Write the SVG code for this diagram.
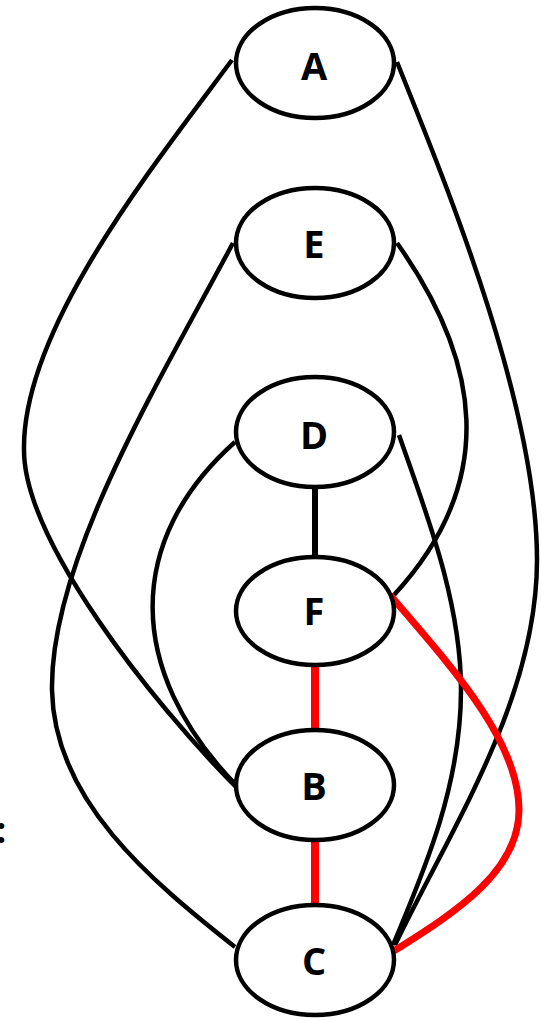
<svg xmlns="http://www.w3.org/2000/svg" width="542" height="1020" viewBox="0 0 542 1020">
<style>
.e{fill:none;stroke:#000;stroke-width:4.5;stroke-linecap:butt}
.r{fill:none;stroke:#ff0000;stroke-width:7}
.n ellipse{fill:#fff;stroke:#000;stroke-width:4.5}
.n text{font-family:"Open Sans","Liberation Sans",Arial,sans-serif;font-weight:bold;font-size:38px;text-anchor:middle;fill:#000}
.t{font-family:"Open Sans","Liberation Sans",Arial,sans-serif;font-weight:bold;font-size:36px;fill:#000}
</style>
<rect width="542" height="1020" fill="#fff"/>
<g id="connectors">
<path class="e" d="M232,60 C150,170 22,330 24,450 C24,540 150,700 236,787"/>
<path class="e" d="M233,243 C160,380 50,560 52,690 C54,800 150,880 235,947"/>
<path class="e" d="M235,442 C125,540 125,670 236,785"/>
<path class="e" d="M397,62 C440,170 537,400 537,560 C537,700 450,830 395,945"/>
<path class="e" d="M397,243 C480,360 500,480 394,595"/>
<path class="e" d="M399,435 C425,510 461,600 461,690 C461,790 420,880 393,945"/>
<path class="r" d="M390,595 C450,665 519,740 519,810 C519,870 460,910 392,952"/>
<line x1="315" y1="488" x2="315" y2="557" stroke="#000" stroke-width="6"/>
<line x1="315" y1="665" x2="315" y2="729" stroke="#ff0000" stroke-width="8"/>
<line x1="315" y1="841" x2="315" y2="906" stroke="#ff0000" stroke-width="8"/>
</g>
<g id="A" class="n"><ellipse cx="315" cy="63" rx="79" ry="55"/><text x="314" y="80">A</text></g>
<g id="E" class="n"><ellipse cx="315" cy="243" rx="79" ry="55"/><text x="314" y="258">E</text></g>
<g id="D" class="n"><ellipse cx="315" cy="432" rx="79" ry="55"/><text x="314" y="449">D</text></g>
<g id="F" class="n"><ellipse cx="315" cy="611" rx="79" ry="54"/><text x="314" y="625">F</text></g>
<g id="B" class="n"><ellipse cx="315" cy="785" rx="79" ry="55"/><text x="314" y="800">B</text></g>
<g id="C" class="n"><ellipse cx="315" cy="960" rx="79" ry="55"/><text x="314" y="975">C</text></g>
<text class="t" x="-4" y="843">:</text>
</svg>
